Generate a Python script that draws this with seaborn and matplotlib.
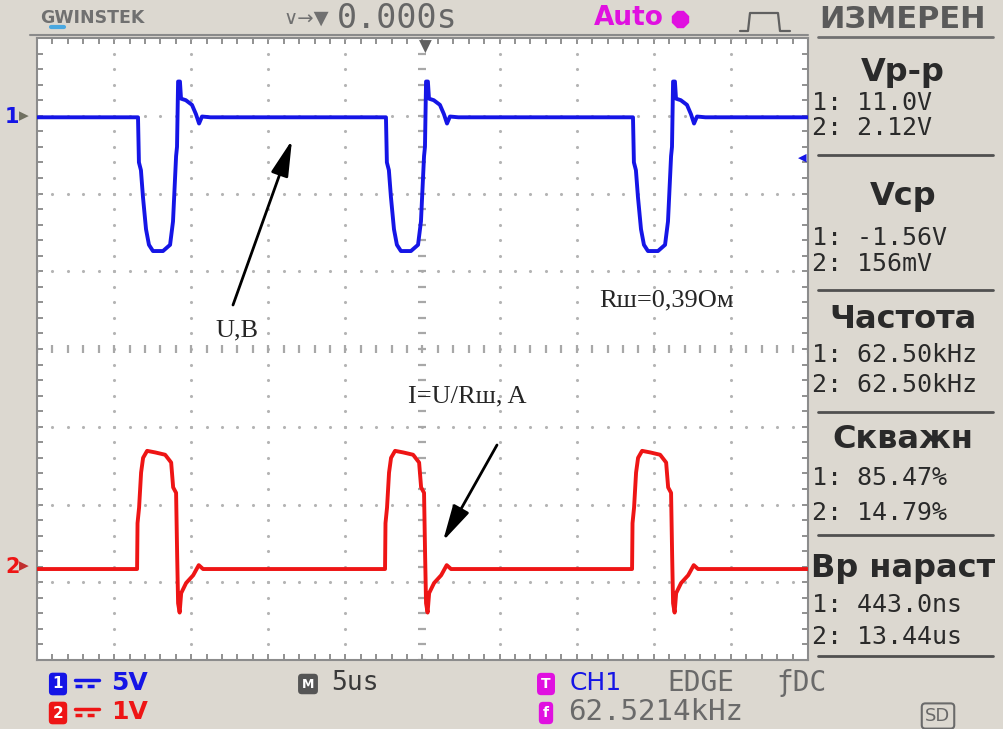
import numpy as np
import pandas as pd
import matplotlib
matplotlib.use("Agg")
import matplotlib.pyplot as plt
import seaborn as sns
from matplotlib.lines import Line2D

# ---------------- data (read from the screen) ----------------
# time in microseconds relative to each pulse start, values in volts
ch1_shape_t = [0.0, 0.06, 0.19, 0.32, 0.52, 0.71, 0.97, 1.62, 2.08, 2.27, 2.47, 2.53, 2.60, 2.72, 2.79, 3.10, 3.50, 3.76, 3.96, 4.15, 4.70]
ch1_shape_v = [-0.1, -3.0, -3.5, -5.2, -7.3, -8.3, -8.7, -8.7, -8.3, -6.8, -2.6, -2.0, 2.2, 2.2, 1.1, 1.0, 0.7, 0.1, -0.5, -0.05, -0.1]
ch1_starts = [-18.45, -2.37, 13.65]
ch1_base = -0.1

ch2_shape_t = [0.0, 0.03, 0.13, 0.26, 0.39, 0.65, 1.17, 1.82, 2.21, 2.34, 2.53, 2.60, 2.66, 2.76, 2.86, 3.18, 3.64, 4.00, 4.28]
ch2_shape_v = [0.0, 0.59, 0.79, 1.24, 1.43, 1.52, 1.50, 1.47, 1.37, 1.05, 0.98, 0.17, -0.44, -0.56, -0.31, -0.18, -0.08, 0.05, 0.0]
ch2_starts = [-18.51, -2.43, 13.59]
ch2_base = 0.0

ch1_volts_per_div = 5.0
ch2_volts_per_div = 1.0
ch1_ground_div = 3.0
ch2_ground_div = -2.83
time_per_div = 5.0  # us

panel_titles = ["Vp-p", "Vcp", "Частота", "Скважн", "Вр нараст"]
panel_ch1 = ["1: 11.0V", "1: -1.56V", "1: 62.50kHz", "1: 85.47%", "1: 443.0ns"]
panel_ch2 = ["2: 2.12V", "2: 156mV", "2: 62.50kHz", "2: 14.79%", "2: 13.44us"]


def build(starts, st, sv, base, vdiv, gdiv, name):
    t = [-25.0]
    v = [base]
    for s in starts:
        t.extend([s + x for x in st])
        v.extend(sv)
    t.append(25.0)
    v.append(base)
    return pd.DataFrame({"t": t, "div": np.array(v) / vdiv + gdiv, "ch": name})


df = pd.concat([
    build(ch1_starts, ch1_shape_t, ch1_shape_v, ch1_base, ch1_volts_per_div, ch1_ground_div, "CH1"),
    build(ch2_starts, ch2_shape_t, ch2_shape_v, ch2_base, ch2_volts_per_div, ch2_ground_div, "CH2"),
], ignore_index=True)

# ---------------- figure ----------------
sns.set_style("white")
plt.rcParams["font.family"] = ["DejaVu Sans"]
W, H = 1004, 729
BG = "#DCD8D0"
fig = plt.figure(figsize=(W / 100, H / 100), dpi=100, facecolor=BG)


def fx(x):
    return x / W


def fy(y):
    return 1 - y / H


L, R, T, B = 37, 808, 38, 660
ax = fig.add_axes([fx(L), fy(B), (R - L) / W, (B - T) / H])
ax.set_facecolor("white")
ax.set_xlim(-25, 25)
ax.set_ylim(-4, 4)

# grid dots
gc = "#B4B4B4"
ydots = np.arange(-4, 4.001, 0.2)
xdots = np.arange(-25, 25.001, 1.0)
for gx in np.arange(-20, 21, 5):
    if gx == 0:
        continue
    ax.scatter(np.full_like(ydots, gx), ydots, s=5, color=gc, lw=0, zorder=1)
for gy in range(-3, 4):
    if gy == 0:
        continue
    ax.scatter(xdots, np.full_like(xdots, gy), s=5, color=gc, lw=0, zorder=1)
# centre cross
ax.scatter(xdots, np.zeros_like(xdots), marker="|", s=28, color="#A8A8A8", lw=1.6, zorder=1)
ax.scatter(np.zeros_like(ydots), ydots, marker="_", s=28, color="#A8A8A8", lw=1.6, zorder=1)

sns.lineplot(data=df, x="t", y="div", hue="ch", palette={"CH1": "#1515E6", "CH2": "#EE1515"},
             sort=False, estimator=None, lw=2.8, legend=False, ax=ax, zorder=3)

ax.set_xlabel("")
ax.set_ylabel("")
ax.set_xticks(np.arange(-25, 25.01, 1.0))
ax.set_yticks(np.arange(-4, 4.01, 0.2))
ax.tick_params(direction="in", length=4, width=1.4, color="#909090", labelleft=False, labelbottom=False,
               top=True, right=True, left=True, bottom=True)
for sp in ax.spines.values():
    sp.set_color("#8C8C8C")
    sp.set_linewidth(1.5)

# annotations inside screen
serif = ["Liberation Serif", "DejaVu Serif"]
fig.text(fx(237), fy(330), "U,B", family=serif, fontsize=19, ha="center", va="center")
fig.text(fx(667), fy(300), "Rш=0,39Ом", family=serif, fontsize=19, ha="center", va="center")
fig.text(fx(467), fy(396), "I=U/Rш, A", family=serif, fontsize=19, ha="center", va="center")
ap = dict(arrowstyle="-|>,head_length=1.1,head_width=0.27", color="black", lw=2, mutation_scale=20,
          shrinkA=0, shrinkB=0)
ax.annotate("", xy=(292, H - 140), xycoords="figure pixels", xytext=(233, H - 305),
            textcoords="figure pixels", arrowprops=ap)
ax.annotate("", xy=(443, H - 541), xycoords="figure pixels", xytext=(497, H - 445),
            textcoords="figure pixels", arrowprops=ap)

# channel markers
fig.text(fx(5), fy(117), "1", color="#1515E6", fontsize=15, fontweight="bold", ha="left", va="center")
fig.text(fx(19), fy(116), "▸", color="#707060", fontsize=14, ha="left", va="center")
fig.text(fx(5), fy(567), "2", color="#EE1515", fontsize=15, fontweight="bold", ha="left", va="center")
fig.text(fx(19), fy(566), "▸", color="#C03030", fontsize=14, ha="left", va="center")
fig.text(fx(806), fy(158), "◀", color="#1515E6", fontsize=8, ha="right", va="center")
fig.text(fx(425), fy(47), "▼", color="#606060", fontsize=12, ha="center", va="center")

# top bar
grey = "#5A5A5A"
mono = "DejaVu Sans Mono"
fig.text(fx(40), fy(18), "GWINSTEK", color="#707070", fontsize=12.5, fontweight="bold", ha="left", va="center")
fig.add_artist(Line2D([fx(51), fx(64)], [fy(27), fy(27)], color="#4AA8E0", lw=3))
fig.text(fx(283), fy(18), "∨→▼", color="#707070", fontsize=14, ha="left", va="center")
fig.text(fx(337), fy(18), "0.000s", color="#666666", family=mono, fontsize=24, ha="left", va="center")
fig.text(fx(594), fy(18), "Auto", color="#E010E0", fontsize=19, fontweight="bold", ha="left", va="center")
fig.add_artist(Line2D([fx(680)], [fy(19)], marker="8", ms=13, color="#E010E0"))
fig.add_artist(Line2D([fx(740), fx(748), fx(750), fx(778), fx(780), fx(790)],
                      [fy(31), fy(31), fy(13), fy(13), fy(31), fy(31)], color="#606060", lw=1.6))
fig.text(fx(903), fy(19), "ИЗМЕРЕН", color=grey, fontsize=22, fontweight="bold", ha="center", va="center")
fig.add_artist(Line2D([fx(818), fx(993)], [fy(37), fy(37)], color="#707070", lw=2))
fig.add_artist(Line2D([fx(30), fx(808)], [fy(35), fy(35)], color="#8A8A8A", lw=1.5))

# right measurement panel
head_y = [72, 197, 320, 440, 568]
l1_y = [103, 238, 355, 478, 605]
l2_y = [128, 264, 385, 513, 637]
sep_y = [155, 290, 412, 535, 656]
for i in range(5):
    fig.text(fx(903), fy(head_y[i]), panel_titles[i], color="#2A2A2A", fontsize=23, fontweight="bold",
             ha="center", va="center")
    fig.text(fx(812), fy(l1_y[i]), panel_ch1[i], color="#2A2A2A", family=mono, fontsize=18,
             ha="left", va="center")
    fig.text(fx(812), fy(l2_y[i]), panel_ch2[i], color="#2A2A2A", family=mono, fontsize=18,
             ha="left", va="center")
    fig.add_artist(Line2D([fx(818), fx(993)], [fy(sep_y[i]), fy(sep_y[i])], color="#505050", lw=2))

# bottom bar
def dc_symbol(x0, y0, color):
    fig.add_artist(Line2D([fx(x0), fx(x0 + 24)], [fy(y0 - 3), fy(y0 - 3)], color=color, lw=2.5))
    fig.add_artist(Line2D([fx(x0), fx(x0 + 24)], [fy(y0 + 3), fy(y0 + 3)], color=color, lw=2.5,
                          linestyle=(0, (2, 1.5))))


fig.text(fx(58), fy(684), "1", color="white", fontsize=11, fontweight="bold", ha="center", va="center",
         bbox=dict(boxstyle="round,pad=0.25", fc="#1515E6", ec="none"))
dc_symbol(75, 683, "#1515E6")
fig.text(fx(111), fy(683), "5V", color="#1515E6", fontsize=18, fontweight="bold", ha="left", va="center")
fig.text(fx(58), fy(713), "2", color="white", fontsize=11, fontweight="bold", ha="center", va="center",
         bbox=dict(boxstyle="round,pad=0.25", fc="#EE1515", ec="none"))
dc_symbol(75, 712, "#EE1515")
fig.text(fx(111), fy(712), "1V", color="#EE1515", fontsize=18, fontweight="bold", ha="left", va="center")

fig.text(fx(308), fy(684), "M", color="white", fontsize=9, fontweight="bold", ha="center", va="center",
         bbox=dict(boxstyle="round,pad=0.3", fc="#555555", ec="none"))
fig.text(fx(331), fy(683), "5us", color="#3A3A3A", family=mono, fontsize=19, ha="left", va="center")

fig.text(fx(546), fy(684), "T", color="white", fontsize=10, fontweight="bold", ha="center", va="center",
         bbox=dict(boxstyle="round,pad=0.3", fc="#E010E0", ec="none"))
fig.text(fx(570), fy(683), "CH1", color="#1515E6", fontsize=18, ha="left", va="center")
fig.text(fx(667), fy(683), "EDGE", color="#6A6A6A", family=mono, fontsize=20, ha="left", va="center")
fig.text(fx(776), fy(683), "ƒDC", color="#6A6A6A", family=mono, fontsize=20, ha="left", va="center")
fig.text(fx(546), fy(713), "f", color="white", fontsize=10, fontweight="bold", ha="center", va="center",
         bbox=dict(boxstyle="round,pad=0.3", fc="#E010E0", ec="none"))
fig.text(fx(568), fy(712), "62.5214kHz", color="#6A6A6A", family=mono, fontsize=21, ha="left", va="center")
fig.text(fx(938), fy(716), "SD", color="#6A6A6A", fontsize=13, ha="center", va="center",
         bbox=dict(boxstyle="round,pad=0.2", fc="none", ec="#6A6A6A", lw=1.5))

fig.savefig("out.png", dpi=100, facecolor=BG)
